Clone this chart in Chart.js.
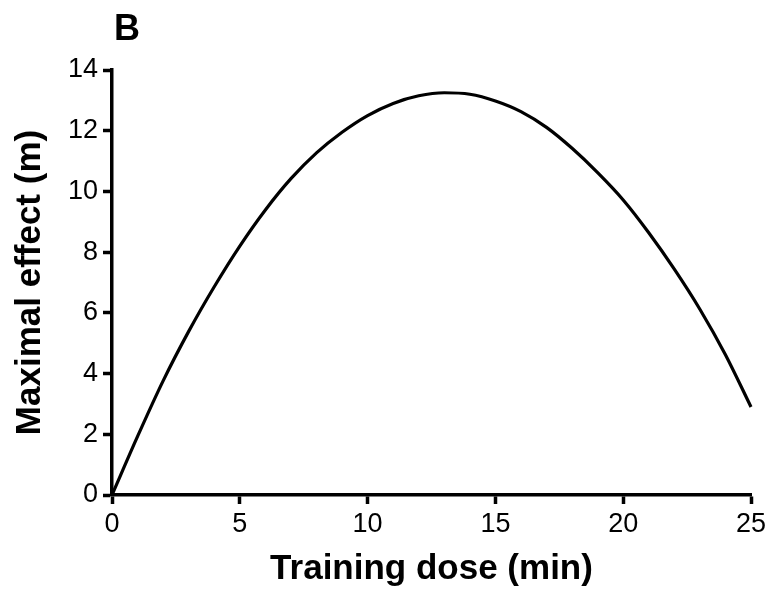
<!DOCTYPE html>
<html>
<head>
<meta charset="utf-8">
<script src="https://cdn.jsdelivr.net/npm/chart.js@4.4.1/dist/chart.umd.min.js"></script>
<style>
  html, body { margin: 0; padding: 0; background: #ffffff; }
  #wrap { width: 773px; height: 598px; position: relative; }
</style>
</head>
<body>
<div id="wrap"><canvas id="chart" width="773" height="598"></canvas></div>
<script>
// Training dose (min) and the corresponding maximal effect (m)
const doseMin = [0, 1, 2, 3, 4, 5, 6, 7, 8, 9, 10, 11, 12, 13, 14, 15, 16, 17, 18, 19, 20, 21, 22, 23, 24, 25];
const effectM = [0, 1.93, 3.76, 5.39, 6.86, 8.2, 9.39, 10.42, 11.27, 11.95, 12.5, 12.9, 13.15, 13.25, 13.2, 12.98, 12.63, 12.11, 11.42, 10.62, 9.72, 8.64, 7.44, 6.12, 4.62, 2.9];

const xTicks = [0, 5, 10, 15, 20, 25];
const yTicks = [0, 2, 4, 6, 8, 10, 12, 14];

const panelLabel = 'B';
const xTitle = 'Training dose (min)';
const yTitle = 'Maximal effect (m)';

const FONT = "'Liberation Sans', Arial, Helvetica, sans-serif";

const points = doseMin.map((d, i) => ({ x: d, y: effectM[i] }));

// Panel letter in the upper-left corner
const panelLetter = {
  id: 'panelLetter',
  afterDraw(chart) {
    const ctx = chart.ctx;
    ctx.save();
    ctx.fillStyle = '#000';
    ctx.font = 'bold 36px ' + FONT;
    ctx.textAlign = 'left';
    ctx.textBaseline = 'alphabetic';
    ctx.fillText(panelLabel, 114, 40);
    ctx.restore();
  }
};

const axisCommon = {
  border: { display: true, color: '#000', width: 3.5 },
  grid: {
    display: true,
    drawOnChartArea: false,
    drawTicks: true,
    tickLength: 9,
    tickWidth: 3.5,
    tickColor: '#000'
  }
};

new Chart(document.getElementById('chart'), {
  type: 'scatter',
  data: {
    datasets: [{
      data: points,
      showLine: true,
      borderColor: '#000',
      borderWidth: 3.2,
      pointRadius: 0,
      pointHoverRadius: 0,
      cubicInterpolationMode: 'monotone',
      fill: false,
      clip: false
    }]
  },
  options: {
    responsive: false,
    animation: false,
    devicePixelRatio: 1,
    layout: { padding: { top: 70, right: 22, left: 0, bottom: 0 } },
    plugins: {
      legend: { display: false },
      tooltip: { enabled: false },
      title: { display: false }
    },
    scales: {
      x: Object.assign({}, axisCommon, {
        type: 'linear',
        min: 0,
        max: 25,
        afterBuildTicks(scale) { scale.ticks = xTicks.map(v => ({ value: v })); },
        afterFit(scale) { scale.height = 103; },
        ticks: {
          color: '#000',
          padding: 4,
          font: { family: FONT, size: 27 },
          maxRotation: 0,
          autoSkip: false
        },
        title: {
          display: true,
          text: xTitle,
          color: '#000',
          font: { family: FONT, size: 35, weight: 'bold' },
          padding: { top: 0, bottom: 8 }
        }
      }),
      y: Object.assign({}, axisCommon, {
        type: 'linear',
        min: 0,
        max: 14,
        afterBuildTicks(scale) { scale.ticks = yTicks.map(v => ({ value: v })); },
        afterFit(scale) { scale.width = 112; },
        ticks: {
          color: '#000',
          padding: 5,
          font: { family: FONT, size: 27 },
          autoSkip: false
        },
        title: {
          display: true,
          text: yTitle,
          color: '#000',
          font: { family: FONT, size: 35, weight: 'bold' },
          padding: { top: 9, bottom: 0 }
        }
      })
    }
  },
  plugins: [panelLetter]
});
</script>
</body>
</html>
